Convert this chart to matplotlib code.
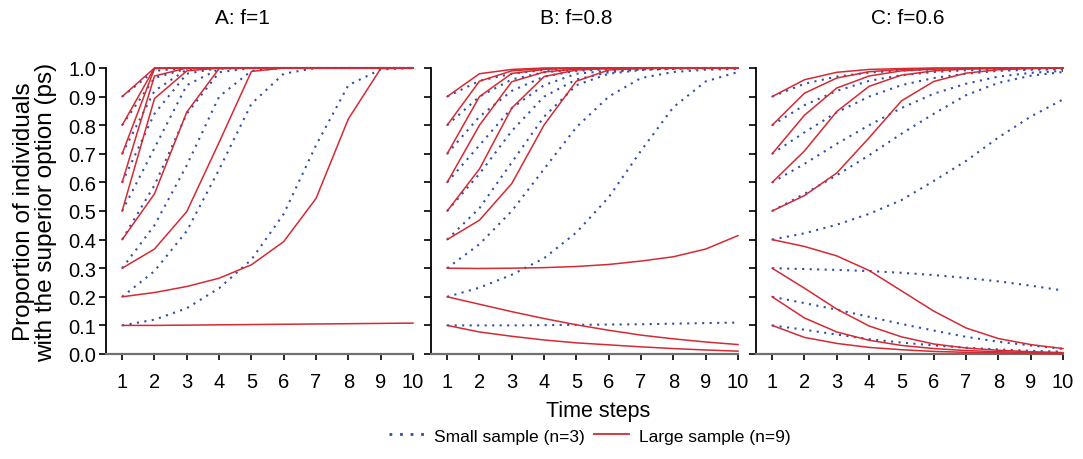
import matplotlib
matplotlib.use("Agg")
import matplotlib.pyplot as plt
from matplotlib.lines import Line2D

plt.rcParams['font.family'] = ['Liberation Sans', 'DejaVu Sans']

time_steps = [1, 2, 3, 4, 5, 6, 7, 8, 9, 10]
ytick_values = [0.0, 0.1, 0.2, 0.3, 0.4, 0.5, 0.6, 0.7, 0.8, 0.9, 1.0]
ytick_labels = ["0.0", "0.1", "0.2", "0.3", "0.4", "0.5", "0.6", "0.7", "0.8", "0.9", "1.0"]
panel_titles = ["A: f=1", "B: f=0.8", "C: f=0.6"]

# Panel A (f=1)
A_small = [
    [0.1, 0.12, 0.16, 0.23, 0.33, 0.49, 0.73, 0.94, 0.995, 1.0],
    [0.2, 0.29, 0.43, 0.645, 0.875, 0.98, 1.0, 1.0, 1.0, 1.0],
    [0.3, 0.45, 0.66, 0.90, 0.99, 1.0, 1.0, 1.0, 1.0, 1.0],
    [0.4, 0.59, 0.84, 0.985, 1.0, 1.0, 1.0, 1.0, 1.0, 1.0],
    [0.5, 0.72, 0.94, 0.997, 1.0, 1.0, 1.0, 1.0, 1.0, 1.0],
    [0.6, 0.84, 0.98, 1.0, 1.0, 1.0, 1.0, 1.0, 1.0, 1.0],
    [0.7, 0.92, 0.995, 1.0, 1.0, 1.0, 1.0, 1.0, 1.0, 1.0],
    [0.8, 0.965, 0.998, 1.0, 1.0, 1.0, 1.0, 1.0, 1.0, 1.0],
    [0.9, 0.99, 1.0, 1.0, 1.0, 1.0, 1.0, 1.0, 1.0, 1.0],
]
A_large = [
    [0.1, 0.1, 0.101, 0.102, 0.103, 0.104, 0.105, 0.106, 0.107, 0.108],
    [0.2, 0.215, 0.236, 0.265, 0.312, 0.393, 0.544, 0.822, 0.998, 1.0],
    [0.3, 0.367, 0.498, 0.74, 0.988, 1.0, 1.0, 1.0, 1.0, 1.0],
    [0.4, 0.56, 0.846, 0.998, 1.0, 1.0, 1.0, 1.0, 1.0, 1.0],
    [0.5, 0.893, 0.99, 1.0, 1.0, 1.0, 1.0, 1.0, 1.0, 1.0],
    [0.6, 0.972, 1.0, 1.0, 1.0, 1.0, 1.0, 1.0, 1.0, 1.0],
    [0.7, 0.998, 1.0, 1.0, 1.0, 1.0, 1.0, 1.0, 1.0, 1.0],
    [0.8, 1.0, 1.0, 1.0, 1.0, 1.0, 1.0, 1.0, 1.0, 1.0],
    [0.9, 1.0, 1.0, 1.0, 1.0, 1.0, 1.0, 1.0, 1.0, 1.0],
]

# Panel B (f=0.8)
B_small = [
    [0.1, 0.1, 0.1, 0.101, 0.102, 0.103, 0.104, 0.106, 0.108, 0.11],
    [0.2, 0.232, 0.277, 0.335, 0.425, 0.548, 0.711, 0.863, 0.953, 0.986],
    [0.3, 0.384, 0.50, 0.647, 0.793, 0.90, 0.965, 0.986, 0.994, 0.997],
    [0.4, 0.51, 0.67, 0.83, 0.94, 0.98, 0.993, 0.997, 0.999, 1.0],
    [0.5, 0.63, 0.78, 0.90, 0.96, 0.985, 0.995, 0.998, 1.0, 1.0],
    [0.6, 0.73, 0.86, 0.94, 0.98, 0.99, 0.997, 1.0, 1.0, 1.0],
    [0.7, 0.83, 0.92, 0.97, 0.99, 0.996, 0.998, 1.0, 1.0, 1.0],
    [0.8, 0.90, 0.96, 0.985, 0.995, 0.998, 1.0, 1.0, 1.0, 1.0],
    [0.9, 0.955, 0.98, 0.993, 0.998, 1.0, 1.0, 1.0, 1.0, 1.0],
]
B_large = [
    [0.1, 0.077, 0.062, 0.049, 0.039, 0.032, 0.025, 0.019, 0.014, 0.01],
    [0.2, 0.174, 0.148, 0.124, 0.102, 0.083, 0.066, 0.053, 0.042, 0.033],
    [0.3, 0.299, 0.30, 0.302, 0.306, 0.313, 0.325, 0.34, 0.367, 0.414],
    [0.4, 0.468, 0.596, 0.801, 0.954, 0.993, 0.998, 1.0, 1.0, 1.0],
    [0.5, 0.647, 0.86, 0.97, 0.993, 0.998, 1.0, 1.0, 1.0, 1.0],
    [0.6, 0.80, 0.952, 0.986, 0.996, 1.0, 1.0, 1.0, 1.0, 1.0],
    [0.7, 0.90, 0.981, 0.995, 1.0, 1.0, 1.0, 1.0, 1.0, 1.0],
    [0.8, 0.954, 0.99, 0.998, 1.0, 1.0, 1.0, 1.0, 1.0, 1.0],
    [0.9, 0.98, 0.995, 1.0, 1.0, 1.0, 1.0, 1.0, 1.0, 1.0],
]

# Panel C (f=0.6)
C_small = [
    [0.1, 0.085, 0.068, 0.052, 0.04, 0.03, 0.022, 0.016, 0.011, 0.008],
    [0.2, 0.178, 0.155, 0.13, 0.105, 0.082, 0.06, 0.043, 0.03, 0.018],
    [0.3, 0.297, 0.294, 0.29, 0.284, 0.276, 0.266, 0.254, 0.239, 0.222],
    [0.4, 0.422, 0.452, 0.49, 0.538, 0.605, 0.675, 0.757, 0.83, 0.89],
    [0.5, 0.56, 0.625, 0.695, 0.77, 0.84, 0.905, 0.948, 0.973, 0.986],
    [0.6, 0.665, 0.735, 0.80, 0.86, 0.91, 0.945, 0.97, 0.983, 0.99],
    [0.7, 0.775, 0.845, 0.90, 0.94, 0.965, 0.98, 0.99, 0.994, 0.996],
    [0.8, 0.87, 0.92, 0.955, 0.975, 0.986, 0.992, 0.995, 0.997, 0.998],
    [0.9, 0.945, 0.97, 0.984, 0.991, 0.995, 0.997, 0.998, 0.999, 1.0],
]
C_large = [
    [0.1, 0.058, 0.037, 0.023, 0.015, 0.009, 0.006, 0.004, 0.002, 0.001],
    [0.2, 0.126, 0.077, 0.048, 0.03, 0.019, 0.012, 0.008, 0.005, 0.003],
    [0.3, 0.23, 0.157, 0.098, 0.06, 0.035, 0.021, 0.013, 0.008, 0.005],
    [0.4, 0.376, 0.343, 0.292, 0.221, 0.15, 0.091, 0.054, 0.033, 0.019],
    [0.5, 0.554, 0.633, 0.756, 0.885, 0.953, 0.982, 0.994, 0.998, 1.0],
    [0.6, 0.71, 0.848, 0.936, 0.975, 0.99, 0.996, 0.998, 1.0, 1.0],
    [0.7, 0.835, 0.93, 0.972, 0.99, 0.996, 0.998, 1.0, 1.0, 1.0],
    [0.8, 0.912, 0.965, 0.987, 0.995, 0.998, 1.0, 1.0, 1.0, 1.0],
    [0.9, 0.959, 0.985, 0.995, 0.998, 1.0, 1.0, 1.0, 1.0, 1.0],
]

small_sets = [A_small, B_small, C_small]
large_sets = [A_large, B_large, C_large]

blue = '#2f4fa8'
red = '#d42a33'
dot_style = (0, (1.0, 2.6))

W, H = 1083, 460
fig = plt.figure(figsize=(W / 100, H / 100), dpi=100)

lefts = [106, 431, 756]
title_x = [0.446, 0.472, 0.495]
axes = []
for i, lx in enumerate(lefts):
    ax = fig.add_axes([lx / W, 1 - 355 / H, 307 / W, 286 / H])
    axes.append(ax)
    for series in small_sets[i]:
        ax.plot(time_steps, series, color=blue, lw=1.5, linestyle=dot_style,
                dash_capstyle='butt', clip_on=False, zorder=2)
    for series in large_sets[i]:
        ax.plot(time_steps, series, color=red, lw=1.1, clip_on=False, zorder=3)
    ax.set_xlim(0.5, 10)
    ax.set_ylim(0, 1.0)
    ax.spines['top'].set_visible(False)
    ax.spines['right'].set_visible(False)
    ax.spines['left'].set_linewidth(1.3)
    ax.spines['bottom'].set_linewidth(1.6)
    ax.spines['bottom'].set_color('#707070')
    ax.set_xticks(time_steps)
    ax.set_xticklabels([str(t) for t in time_steps])
    ax.set_yticks(ytick_values)
    ax.tick_params(axis='x', direction='out', length=4, width=1.2, pad=9,
                   labelsize=14.5)
    ax.tick_params(axis='y', direction='out', length=5, width=1.2, pad=2,
                   labelsize=14.5)
    if i == 0:
        ax.set_yticklabels(ytick_labels)
    else:
        ax.set_yticklabels([])
    ax.text(title_x[i], 1 + 51 / 286, panel_titles[i], transform=ax.transAxes,
            ha='center', va='center', fontsize=15)

fig.text(35 / W, 1 - 212 / H,
         "Proportion of individuals\nwith the superior option (ps)",
         rotation=90, ha='center', va='center', fontsize=17.5, linespacing=1.0)
fig.text(598 / W, 1 - 412 / H, "Time steps", ha='center', va='center',
         fontsize=15.5)

handles = [
    Line2D([], [], color=blue, lw=2.0, linestyle=(0, (1.0, 2.8)), dash_capstyle='butt'),
    Line2D([], [], color=red, lw=1.3),
]
fig.legend(handles, ["Small sample (n=3)", "Large sample (n=9)"],
           loc='center', bbox_to_anchor=(590 / W, 1 - 437 / H), ncol=2,
           frameon=False, fontsize=12.5, handlelength=2.0, handletextpad=0.6,
           columnspacing=0.5)

fig.savefig("out.png", dpi=100)
